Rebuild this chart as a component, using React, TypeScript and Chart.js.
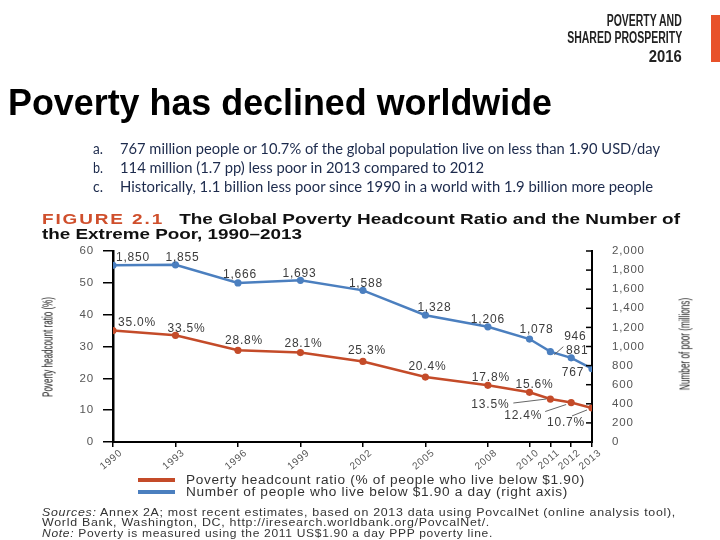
import React, { useEffect, useLayoutEffect, useRef } from "react";
import { Chart, registerables } from "chart.js";

Chart.register(...registerables);

// ---------- data ----------
const years = [1990, 1993, 1996, 1999, 2002, 2005, 2008, 2010, 2011, 2012, 2013];
const headcountRatio = [35.0, 33.5, 28.8, 28.1, 25.3, 20.4, 17.8, 15.6, 13.5, 12.4, 10.7];
const numberOfPoor = [1850, 1855, 1666, 1693, 1588, 1328, 1206, 1078, 946, 881, 767];
const ratioTickStep = 10;
const poorTicks = [0, 200, 400, 600, 800, 1000, 1200, 1400, 1600, 1800, 2000];
const seriesNames = [
  "Poverty headcount ratio (% of people who live below $1.90)",
  "Number of people who live below $1.90 a day (right axis)",
];
const bullets = [
  ["a.", "767 million people or 10.7% of the global population live on less than 1.90 USD/day"],
  ["b.", "114 million (1.7 pp) less poor in 2013 compared to 2012"],
  ["c.", "Historically, 1.1 billion less poor since 1990 in a world with 1.9 billion more people"],
];

// ---------- styles (label placement relative to each point) ----------
const RED = "#c44b29";
const BLUE = "#4b7fbf";
const SANS = '"Liberation Sans", Arial, Helvetica, sans-serif';
const ratioLabelOffsets = [[24, -8], [11, -7], [6, -10], [3, -9], [4, -11], [2, -10], [3, -8], [5, -8], [-60, 6], [-48, 13], [-26, 15]];
const poorLabelOffsets = [[20, -8], [7, -7], [2, -8], [-1, -7], [3, -7], [9, -7], [0, -7], [7, -9], [25, -15], [6, -7], [-19, 4]];
const ratioLeaders: Record<number, number[]> = { 8: [-37, 4, -4, 0], 9: [-26, 9, -5, 2], 10: [-20, 8, -5, 2] };
const poorLeaders: Record<number, number[]> = { 8: [4, 3, 13, -5] };

const spacingPlugin = {
  id: "spacing",
  beforeDraw(chart: any) {
    (chart.ctx as any).letterSpacing = "0.8px";
  },
};

const labelPlugin = {
  id: "pointLabels",
  afterDatasetsDraw(chart: any) {
    const ctx = chart.ctx as CanvasRenderingContext2D;
    ctx.save();
    (ctx as any).letterSpacing = "0.8px";
    ctx.font = `12px ${SANS}`;
    ctx.fillStyle = "#3c3c3c";
    ctx.textAlign = "center";
    ctx.textBaseline = "middle";
    const specs = [
      { ds: 0, values: headcountRatio, fmt: (v: number) => v.toFixed(1) + "%", offsets: ratioLabelOffsets, leaders: ratioLeaders },
      { ds: 1, values: numberOfPoor, fmt: (v: number) => v.toLocaleString("en-US"), offsets: poorLabelOffsets, leaders: poorLeaders },
    ];
    specs.forEach((s) => {
      const meta = chart.getDatasetMeta(s.ds);
      meta.data.forEach((pt: any, i: number) => {
        const [dx, dy] = s.offsets[i];
        ctx.fillText(s.fmt(s.values[i]), pt.x + dx, pt.y + dy);
        const l = s.leaders[i];
        if (l) {
          ctx.beginPath();
          ctx.strokeStyle = "#555";
          ctx.lineWidth = 0.9;
          ctx.moveTo(pt.x + l[0], pt.y + l[1]);
          ctx.lineTo(pt.x + l[2], pt.y + l[3]);
          ctx.stroke();
        }
      });
    });
    // inward tick marks on the right axis
    const y1 = chart.scales.y1;
    ctx.strokeStyle = "#000";
    ctx.lineWidth = 1.5;
    poorTicks.forEach((v) => {
      const y = y1.getPixelForValue(v);
      ctx.beginPath();
      ctx.moveTo(y1.left - 6, y);
      ctx.lineTo(y1.left, y);
      ctx.stroke();
    });
    ctx.restore();
  },
};

// ---------- helpers ----------
type FitProps = {
  x: number;
  cy: number;
  w: number;
  size: number;
  align?: "left" | "right";
  style?: React.CSSProperties;
  children: React.ReactNode;
};

function Fit({ x, cy, w, size, align = "left", style, children }: FitProps) {
  const ref = useRef<HTMLDivElement>(null);
  useLayoutEffect(() => {
    const el = ref.current;
    if (!el) return;
    el.style.transform = "none";
    const actual = el.getBoundingClientRect().width;
    if (actual > 0) el.style.transform = `scaleX(${w / actual})`;
  }, [w]);
  const pos: React.CSSProperties =
    align === "right"
      ? { right: 720 - x, transformOrigin: "100% 50%" }
      : { left: x, transformOrigin: "0 50%" };
  return (
    <div
      ref={ref}
      style={{
        position: "absolute",
        top: cy - size / 2,
        fontSize: size,
        lineHeight: `${size}px`,
        whiteSpace: "nowrap",
        ...pos,
        ...style,
      }}
    >
      {children}
    </div>
  );
}

function VFit({ cx, cy, len, size, style, children }: { cx: number; cy: number; len: number; size: number; style?: React.CSSProperties; children: React.ReactNode }) {
  const ref = useRef<HTMLDivElement>(null);
  useLayoutEffect(() => {
    const el = ref.current;
    if (!el) return;
    const actual = el.offsetWidth;
    if (actual > 0) el.style.transform = `translate(-50%, -50%) rotate(-90deg) scaleX(${len / actual})`;
  }, [len]);
  return (
    <div
      ref={ref}
      style={{
        position: "absolute",
        left: cx,
        top: cy,
        fontSize: size,
        lineHeight: `${size}px`,
        whiteSpace: "nowrap",
        transformOrigin: "50% 50%",
        transform: "translate(-50%, -50%) rotate(-90deg)",
        ...style,
      }}
    >
      {children}
    </div>
  );
}

function PovertyChart() {
  const canvasRef = useRef<HTMLCanvasElement>(null);
  useEffect(() => {
    const canvas = canvasRef.current;
    if (!canvas) return;
    const tickFont = { family: SANS, size: 11.5 };
    const chart = new Chart(canvas, {
      type: "line",
      data: {
        datasets: [
          {
            label: seriesNames[0],
            data: years.map((yr, i) => ({ x: yr, y: headcountRatio[i] })),
            yAxisID: "y",
            borderColor: RED,
            backgroundColor: RED,
            pointBackgroundColor: RED,
            pointBorderColor: RED,
            borderWidth: 2.5,
            pointRadius: 3.6,
            pointBorderWidth: 0,
            tension: 0,
          },
          {
            label: seriesNames[1],
            data: years.map((yr, i) => ({ x: yr, y: numberOfPoor[i] })),
            yAxisID: "y1",
            borderColor: BLUE,
            backgroundColor: BLUE,
            pointBackgroundColor: BLUE,
            pointBorderColor: BLUE,
            borderWidth: 2.5,
            pointRadius: 3.6,
            pointBorderWidth: 0,
            tension: 0,
          },
        ],
      },
      options: {
        responsive: false,
        animation: false,
        layout: { padding: { left: 73, right: 58, top: 251, bottom: 68 } },
        plugins: {
          legend: { display: false },
          tooltip: { enabled: false },
          title: { display: false },
        },
        scales: {
          x: {
            type: "linear",
            position: "bottom",
            min: years[0],
            max: years[years.length - 1],
            afterBuildTicks: (s: any) => {
              s.ticks = years.map((v) => ({ value: v }));
            },
            afterFit: (s: any) => {
              s.height = 30;
            },
            border: { display: true, color: "#000", width: 2 },
            grid: { drawOnChartArea: false, drawTicks: true, tickLength: 5, color: "#000", lineWidth: 1.5 },
            ticks: {
              autoSkip: false,
              minRotation: 40,
              maxRotation: 40,
              padding: 0,
              labelOffset: 8,
              color: "#555",
              font: { family: SANS, size: 10 },
              callback: (v: any) => String(v),
            },
          },
          y: {
            type: "linear",
            position: "left",
            min: 0,
            max: 60,
            afterFit: (s: any) => {
              s.width = 40;
            },
            border: { display: true, color: "#000", width: 2.5 },
            grid: { drawOnChartArea: false, drawTicks: true, tickLength: 10, color: "#000", lineWidth: 1.5 },
            ticks: { stepSize: ratioTickStep, padding: 9, color: "#555", font: tickFont },
          },
          y1: {
            type: "linear",
            position: "right",
            min: 0,
            max: 2000,
            afterBuildTicks: (s: any) => {
              s.ticks = poorTicks.map((v) => ({ value: v }));
            },
            afterFit: (s: any) => {
              s.width = 70;
            },
            border: { display: true, color: "#000", width: 2 },
            grid: { display: false, drawTicks: false },
            ticks: {
              padding: 20,
              color: "#555",
              font: tickFont,
              callback: (v: any) => Number(v).toLocaleString("en-US"),
            },
          },
        },
      } as any,
      plugins: [spacingPlugin, labelPlugin],
    });
    return () => chart.destroy();
  }, []);
  return (
    <canvas
      ref={canvasRef}
      width={720}
      height={540}
      style={{ position: "absolute", left: 0, top: 0, width: 720, height: 540 }}
    />
  );
}

export default function App() {
  const textDark = "#222";
  const navy = "#1c2a4c";
  const small: React.CSSProperties = { fontFamily: SANS, color: "#333", letterSpacing: "0.6px" };
  return (
    <div
      style={{
        position: "fixed",
        left: 0,
        top: 0,
        width: 720,
        height: 540,
        background: "#fff",
        overflow: "hidden",
      }}
    >
      <PovertyChart />

      {/* report logo */}
      <Fit x={682} cy={21} w={75} size={16} align="right" style={{ fontFamily: SANS, fontWeight: 700, color: textDark }}>
        POVERTY AND
      </Fit>
      <Fit x={682} cy={37.5} w={115} size={16} align="right" style={{ fontFamily: SANS, fontWeight: 700, color: textDark }}>
        SHARED PROSPERITY
      </Fit>
      <Fit x={682} cy={56} w={33} size={17} align="right" style={{ fontFamily: SANS, fontWeight: 700, color: textDark }}>
        2016
      </Fit>
      <div style={{ position: "absolute", left: 711, top: 15, width: 9, height: 47, background: "#e8522a" }} />

      {/* slide title */}
      <Fit x={8} cy={103} w={544} size={36} style={{ fontFamily: SANS, fontWeight: 700, color: "#000" }}>
        Poverty has declined worldwide
      </Fit>

      {/* bullets */}
      {bullets.map(([k, t], i) => (
        <React.Fragment key={k}>
          <Fit x={93} cy={149 + i * 19} w={10} size={14.5} style={{ fontFamily: "Lato, sans-serif", color: navy }}>
            {k}
          </Fit>
          <Fit x={120} cy={149 + i * 19} w={[540, 364, 533][i]} size={14.5} style={{ fontFamily: "Lato, sans-serif", color: navy }}>
            {t}
          </Fit>
        </React.Fragment>
      ))}

      {/* figure title */}
      <Fit x={42} cy={218} w={638} size={15} style={{ fontFamily: SANS, fontWeight: 700, color: "#111" }}>
        <span style={{ color: "#cf4f2c", letterSpacing: "1.5px", marginRight: 12 }}>FIGURE 2.1</span>
        The Global Poverty Headcount Ratio and the Number of
      </Fit>
      <Fit x={42} cy={233} w={260} size={15} style={{ fontFamily: SANS, fontWeight: 700, color: "#111" }}>
        the Extreme Poor, 1990–2013
      </Fit>

      {/* axis titles */}
      <VFit cx={47} cy={347} len={100} size={15} style={{ fontFamily: SANS, color: "#222" }}>
        Poverty headcount ratio (%)
      </VFit>
      <VFit cx={684} cy={344} len={92} size={15} style={{ fontFamily: SANS, color: "#222" }}>
        Number of poor (millions)
      </VFit>

      {/* legend */}
      <div style={{ position: "absolute", left: 138, top: 477.5, width: 37, height: 4, background: RED }} />
      <div style={{ position: "absolute", left: 138, top: 490, width: 37, height: 4, background: BLUE }} />
      <Fit x={186} cy={480} w={399} size={12} style={small}>
        {seriesNames[0]}
      </Fit>
      <Fit x={186} cy={492} w={382} size={12} style={small}>
        {seriesNames[1]}
      </Fit>

      {/* sources */}
      <Fit x={42} cy={512} w={634} size={10.5} style={small}>
        <i>Sources:</i> Annex 2A; most recent estimates, based on 2013 data using PovcalNet (online analysis tool),
      </Fit>
      <Fit x={42} cy={522.5} w={448} size={10.5} style={small}>
        World Bank, Washington, DC, http://iresearch.worldbank.org/PovcalNet/.
      </Fit>
      <Fit x={42} cy={533} w={451} size={10.5} style={small}>
        <i>Note:</i> Poverty is measured using the 2011 US$1.90 a day PPP poverty line.
      </Fit>
    </div>
  );
}
